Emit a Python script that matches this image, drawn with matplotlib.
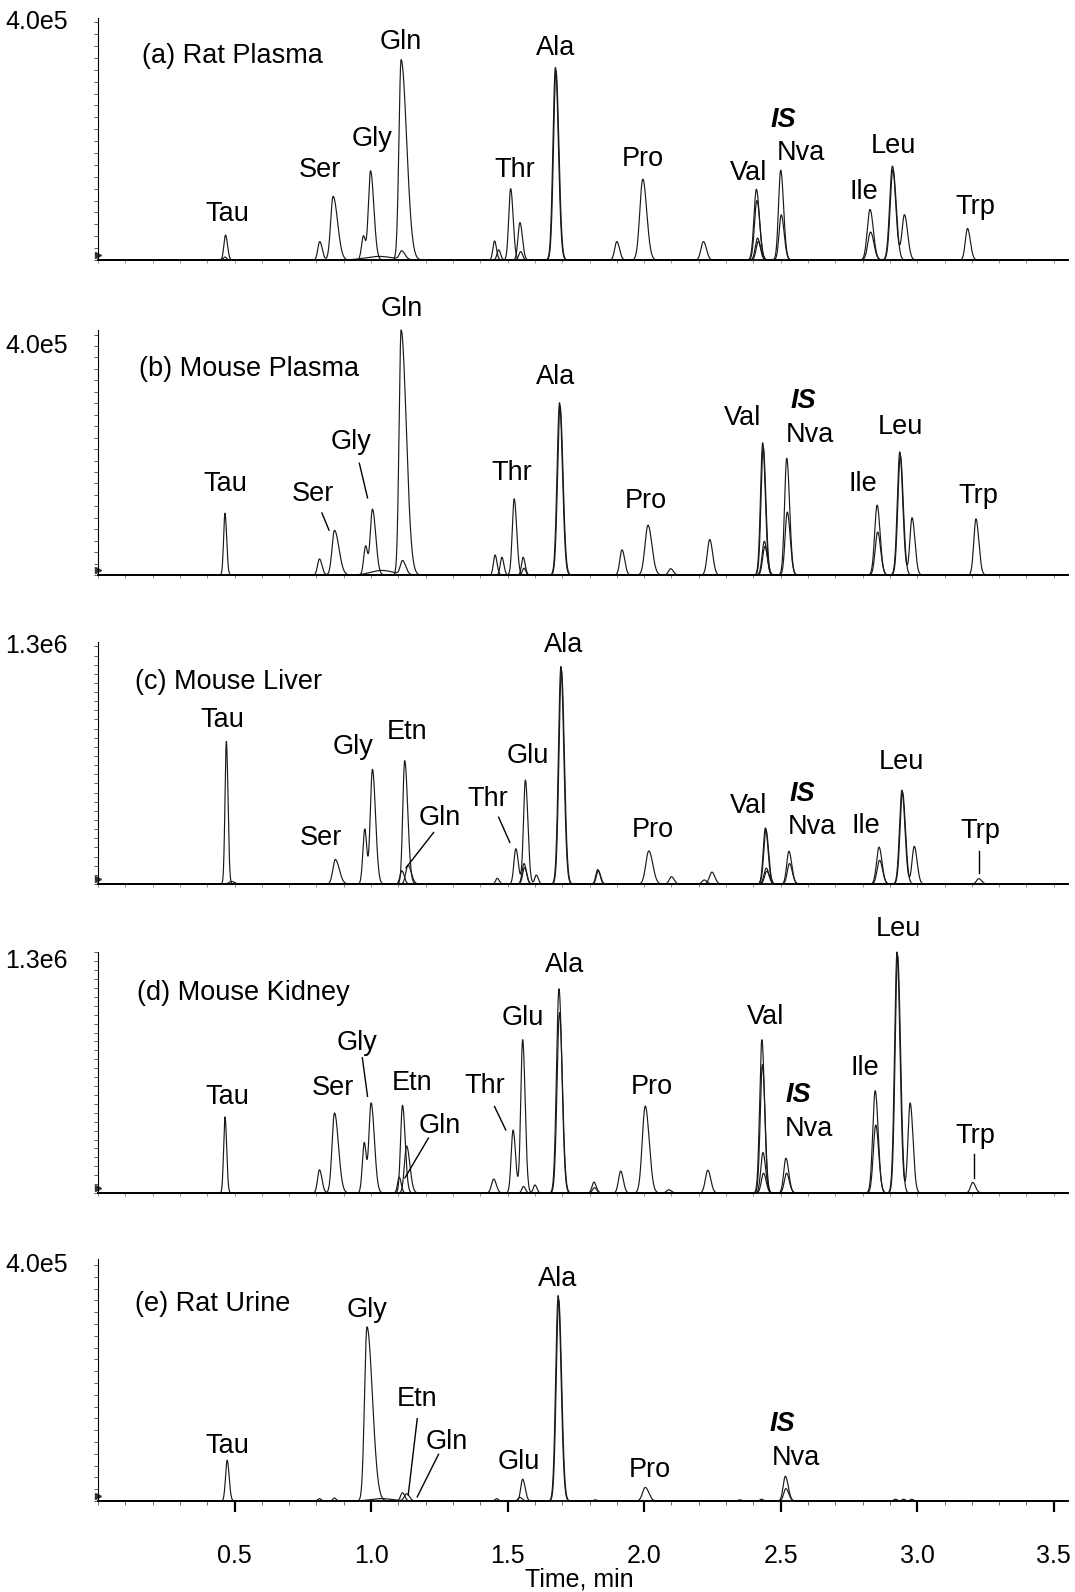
import numpy as np
import matplotlib.pyplot as plt
from matplotlib.ticker import MultipleLocator

plt.rcParams['font.family'] = ['Liberation Sans', 'DejaVu Sans']

# peak tables per sample: retention time (min), height (x1000 counts),
# width sigma (min), right-side tailing factor, trace (MRM channel) index

# (a) Rat Plasma
a_rt = [0.467, 0.812, 0.861, 0.972, 0.998, 1.110, 1.452, 1.511, 1.675, 1.900, 1.995, 2.217,
        2.411, 2.500, 2.827, 2.909, 2.953, 3.184,
        1.030, 1.112, 1.467, 1.545, 1.677, 2.413, 2.502, 2.829, 2.911,
        0.465, 1.548, 2.415, 2.418]
a_h = [42, 31, 107, 40, 150, 337, 32, 120, 324, 31, 136, 31,
       119, 151, 85, 158, 76, 53,
       6, 14, 17, 63, 318, 100, 76, 47, 152,
       5, 14, 37, 31]
a_w = [.006, .007, .009, .007, .008, .008, .006, .007, .009, .008, .011, .009,
       .009, .008, .010, .010, .009, .008,
       .050, .008, .006, .007, .009, .009, .008, .010, .010,
       .006, .007, .008, .008]
a_tail = [1.2, 1.3, 1.8, 1.0, 1.5, 2.5, 1.2, 1.3, 1.2, 1.2, 1.3, 1.2,
          1.2, 1.3, 1.2, 1.2, 1.3, 1.3,
          1.0, 1.5, 1.2, 1.3, 1.2, 1.2, 1.3, 1.2, 1.2,
          1.0, 1.0, 1.2, 1.2]
a_tr = [0] * 18 + [1] * 9 + [2, 2, 2, 3]

# (b) Mouse Plasma
b_rt = [0.465, 0.811, 0.866, 0.980, 1.005, 1.110, 1.454, 1.524, 1.690, 1.919, 2.014, 2.240,
        2.434, 2.522, 2.853, 2.936, 2.981, 3.215,
        1.040, 1.115, 1.479, 1.557, 1.692, 2.097, 2.436, 2.524, 2.855, 2.938,
        1.560, 2.440, 2.442]
b_h = [108, 28, 78, 50, 115, 428, 35, 133, 301, 44, 87, 62,
       231, 204, 122, 215, 100, 98,
       8, 24, 31, 31, 295, 11, 223, 110, 75, 208,
       12, 59, 50]
b_w = [.005, .007, .009, .007, .008, .0075, .006, .007, .009, .008, .011, .009,
       .008, .008, .009, .009, .008, .008,
       .040, .008, .006, .006, .009, .008, .008, .008, .009, .009,
       .006, .008, .008]
b_tail = [1.2, 1.3, 1.8, 1.0, 1.5, 2.5, 1.2, 1.3, 1.2, 1.2, 1.3, 1.2,
          1.2, 1.3, 1.2, 1.2, 1.3, 1.3,
          1.0, 1.5, 1.2, 1.2, 1.2, 1.2, 1.2, 1.3, 1.2, 1.2,
          1.0, 1.2, 1.2]
b_tr = [0] * 18 + [1] * 10 + [2, 2, 3]

# (c) Mouse Liver
c_rt = [0.470, 0.869, 0.977, 1.005, 1.123, 1.462, 1.530, 1.565, 1.605, 1.695, 1.830, 2.017,
        2.100, 2.248, 2.444, 2.530, 2.860, 2.944, 2.989, 3.225,
        0.490, 1.113, 1.560, 1.697, 1.832, 2.220, 2.446, 2.532, 2.862, 2.946,
        1.135, 1.562, 2.447, 2.449]
c_h = [780, 134, 300, 627, 675, 31, 193, 569, 49, 1190, 79, 181,
       40, 65, 307, 179, 202, 513, 206, 29,
       14, 72, 112, 1170, 72, 22, 295, 112, 130, 500,
       103, 90, 87, 70]
c_w = [.005, .009, .007, .008, .007, .006, .007, .007, .006, .009, .007, .011,
       .008, .009, .008, .008, .009, .009, .008, .008,
       .010, .007, .007, .009, .007, .008, .008, .008, .009, .009,
       .008, .007, .008, .008]
c_tail = [1.2, 1.6, 1.0, 1.4, 1.6, 1.2, 1.3, 1.3, 1.2, 1.2, 1.2, 1.3,
          1.2, 1.2, 1.2, 1.3, 1.2, 1.2, 1.3, 1.3,
          1.0, 1.2, 1.2, 1.2, 1.2, 1.2, 1.2, 1.3, 1.2, 1.2,
          1.5, 1.2, 1.2, 1.2]
c_tr = [0] * 20 + [1] * 10 + [2, 2, 2, 3]

# (d) Mouse Kidney
d_rt = [0.465, 0.811, 0.866, 0.975, 1.000, 1.115, 1.449, 1.520, 1.555, 1.600, 1.688, 1.816,
        1.914, 2.004, 2.090, 2.233, 2.431, 2.519, 2.846, 2.926, 2.974, 3.203,
        1.103, 1.558, 1.690, 1.818, 2.433, 2.521, 2.848, 2.928,
        1.130, 2.435, 2.437]
d_h = [427, 130, 449, 280, 505, 492, 78, 353, 860, 45, 1146, 61,
       123, 488, 18, 128, 860, 195, 574, 1352, 505, 59,
       89, 37, 1012, 30, 720, 111, 381, 1330,
       264, 227, 111]
d_w = [.005, .007, .009, .007, .008, .007, .008, .007, .007, .006, .009, .007,
       .008, .011, .008, .009, .008, .008, .009, .009, .008, .008,
       .006, .006, .009, .007, .008, .008, .009, .009,
       .008, .008, .008]
d_tail = [1.2, 1.3, 1.6, 1.0, 1.5, 1.4, 1.2, 1.3, 1.3, 1.2, 1.2, 1.2,
          1.2, 1.3, 1.2, 1.2, 1.2, 1.3, 1.2, 1.2, 1.3, 1.3,
          1.2, 1.2, 1.2, 1.2, 1.2, 1.3, 1.2, 1.2,
          1.5, 1.2, 1.2]
d_tr = [0] * 22 + [1] * 8 + [2, 2, 3]

# (e) Rat Urine
e_rt = [0.473, 0.811, 0.866, 0.985, 1.115, 1.460, 1.555, 1.685, 1.820, 2.004, 2.350, 2.430,
        2.517, 2.920, 2.950, 2.980,
        1.040, 1.130, 1.545, 1.687, 2.519]
e_h = [69, 4, 5, 295, 14, 4, 37, 348, 2, 23, 2, 3,
       42, 3, 3, 3,
       4, 12, 6, 340, 21]
e_w = [.006, .006, .006, .009, .007, .006, .007, .009, .006, .010, .006, .006,
       .008, .006, .006, .006,
       .040, .008, .007, .009, .008]
e_tail = [1.2, 1.0, 1.0, 2.2, 1.2, 1.0, 1.3, 1.2, 1.0, 1.3, 1.0, 1.0,
          1.3, 1.0, 1.0, 1.0,
          1.0, 1.3, 1.2, 1.2, 1.3]
e_tr = [0] * 16 + [1] * 5

titles = ['(a) Rat Plasma', '(b) Mouse Plasma', '(c) Mouse Liver', '(d) Mouse Kidney', '(e) Rat Urine']
title_x = [0.162, 0.151, 0.136, 0.143, 0.136]
title_y = [0.845, 0.842, 0.833, 0.831, 0.815]
scale_txt = ['4.0e5', '4.0e5', '1.3e6', '1.3e6', '4.0e5']
scale_val = [400, 400, 1300, 1300, 400]
y_top = [407, 428, 1324, 1352, 410]
y_minor = [20, 20, 50, 50, 20]

# peak labels: name, time, y (fraction of axis height)
a_lab = ['Tau', 'Ser', 'Gly', 'Gln', 'Thr', 'Ala', 'Pro', 'Val', 'IS', 'Nva', 'Ile', 'Leu', 'Trp']
a_lx = [0.474, 0.812, 1.002, 1.110, 1.526, 1.675, 1.994, 2.381, 2.511, 2.574, 2.805, 2.913, 3.214]
a_ly = [0.189, 0.370, 0.500, 0.899, 0.370, 0.874, 0.416, 0.361, 0.580, 0.441, 0.282, 0.471, 0.218]
b_lab = ['Tau', 'Ser', 'Gly', 'Gln', 'Thr', 'Ala', 'Pro', 'Val', 'IS', 'Nva', 'Ile', 'Leu', 'Trp']
b_lx = [0.467, 0.786, 0.928, 1.113, 1.515, 1.675, 2.006, 2.362, 2.582, 2.608, 2.801, 2.939, 3.225]
b_ly = [0.373, 0.332, 0.544, 1.087, 0.415, 0.809, 0.303, 0.639, 0.710, 0.573, 0.373, 0.606, 0.324]
c_lab = ['Tau', 'Ser', 'Gly', 'Etn', 'Gln', 'Thr', 'Glu', 'Ala', 'Pro', 'Val', 'IS', 'Nva', 'Ile', 'Leu', 'Trp']
c_lx = [0.455, 0.816, 0.935, 1.132, 1.251, 1.429, 1.574, 1.704, 2.032, 2.381, 2.578, 2.615, 2.812, 2.942, 3.232]
c_ly = [0.678, 0.192, 0.565, 0.628, 0.272, 0.351, 0.527, 0.987, 0.222, 0.322, 0.372, 0.234, 0.238, 0.506, 0.218]
d_lab = ['Tau', 'Ser', 'Gly', 'Etn', 'Gln', 'Thr', 'Glu', 'Ala', 'Pro', 'Val', 'IS', 'Nva', 'Ile', 'Leu', 'Trp']
d_lx = [0.474, 0.861, 0.950, 1.150, 1.251, 1.418, 1.556, 1.708, 2.028, 2.444, 2.563, 2.604, 2.809, 2.931, 3.214]
d_ly = [0.397, 0.435, 0.624, 0.456, 0.278, 0.443, 0.726, 0.945, 0.439, 0.730, 0.405, 0.266, 0.519, 1.097, 0.236]
e_lab = ['Tau', 'Gly', 'Etn', 'Gln', 'Glu', 'Ala', 'Pro', 'IS', 'Nva']
e_lx = [0.474, 0.987, 1.169, 1.277, 1.541, 1.682, 2.020, 2.507, 2.556]
e_ly = [0.227, 0.790, 0.420, 0.244, 0.160, 0.916, 0.130, 0.319, 0.176]

# leader lines: (t0, y0, t1, y1), y as fraction of axis height
a_lead = []
b_lead = [(0.820, 0.253, 0.846, 0.183), (0.957, 0.456, 0.987, 0.315)]
c_lead = [(1.467, 0.276, 1.508, 0.172), (1.229, 0.213, 1.128, 0.067), (3.225, 0.138, 3.225, 0.046)]
d_lead = [(0.968, 0.561, 0.987, 0.401), (1.452, 0.359, 1.493, 0.262),
          (1.210, 0.228, 1.124, 0.063), (3.206, 0.160, 3.206, 0.063)]
e_lead = [(1.169, 0.340, 1.136, 0.025), (1.247, 0.193, 1.169, 0.017)]

peaks = [(a_rt, a_h, a_w, a_tail, a_tr), (b_rt, b_h, b_w, b_tail, b_tr), (c_rt, c_h, c_w, c_tail, c_tr),
         (d_rt, d_h, d_w, d_tail, d_tr), (e_rt, e_h, e_w, e_tail, e_tr)]
labels = [(a_lab, a_lx, a_ly), (b_lab, b_lx, b_ly), (c_lab, c_lx, c_ly), (d_lab, d_lx, d_ly), (e_lab, e_lx, e_ly)]
leads = [a_lead, b_lead, c_lead, d_lead, e_lead]

# axes boxes in figure pixels: top, bottom
box_px = [(18, 260), (330, 575), (642, 884), (952, 1193), (1259, 1501)]
W, H = 1075, 1592
x_left, x_right = 98, 1068
FS = 19.5

fig = plt.figure(figsize=(W / 100, H / 100), dpi=100)
grid = np.linspace(0, 3.552, 6000)


def trace(rt, h, w, tail, tr, k):
    y = np.zeros_like(grid)
    for r, hh, ww, tt, t in zip(rt, h, w, tail, tr):
        if t != k:
            continue
        s = np.where(grid < r, ww, ww * tt)
        y += hh * np.exp(-0.5 * ((grid - r) / s) ** 2)
    return y


for i in range(5):
    top, bot = box_px[i]
    ax = fig.add_axes([x_left / W, 1 - bot / H, (x_right - x_left) / W, (bot - top) / H])
    rt, h, w, tail, tr = peaks[i]
    for k in sorted(set(tr)):
        ax.plot(grid, trace(rt, h, w, tail, tr, k), color='#1a1a1a', lw=0.85, clip_on=False)
    ax.set_xlim(0, 3.552)
    ax.set_ylim(0, y_top[i])
    for s in ['top', 'right']:
        ax.spines[s].set_visible(False)
    ax.spines['left'].set_linewidth(0.8)
    ax.spines['bottom'].set_linewidth(1.3)
    ax.yaxis.set_major_locator(MultipleLocator(y_minor[i]))
    ax.tick_params(axis='y', length=3, width=0.6, colors='#444444', labelleft=False)
    ax.xaxis.set_major_locator(MultipleLocator(0.5))
    ax.xaxis.set_minor_locator(MultipleLocator(0.1))
    if i < 4:
        ax.tick_params(axis='x', which='both', length=2.5, width=0.6, colors='#777777', labelbottom=False)
    else:
        ax.tick_params(axis='x', which='major', length=8, width=1.6, colors='black', labelsize=18, pad=23)
        ax.tick_params(axis='x', which='minor', length=3, width=0.6, colors='#555555')
        ax.set_xticks([0.5, 1.0, 1.5, 2.0, 2.5, 3.0, 3.5])
        ax.set_xticklabels(['0.5', '1.0', '1.5', '2.0', '2.5', '3.0', '3.5'])
    ax.plot([0], [0.02], marker='>', ms=4, color='#333333', transform=ax.transAxes, clip_on=False)

    ax.text(-0.031, scale_val[i], scale_txt[i], transform=ax.get_yaxis_transform(),
            ha='right', va='center', fontsize=18)
    ax.text(title_x[i], title_y[i], titles[i], transform=ax.get_xaxis_transform(),
            ha='left', va='center', fontsize=FS)
    lab, lx, ly = labels[i]
    for name, tx, ty in zip(lab, lx, ly):
        if name == 'IS':
            ax.text(tx, ty, name, transform=ax.get_xaxis_transform(), ha='center', va='center',
                    fontsize=FS, fontweight='bold', fontstyle='italic')
        else:
            ax.text(tx, ty, name, transform=ax.get_xaxis_transform(), ha='center', va='center',
                    fontsize=FS)
    for t0, y0, t1, y1 in leads[i]:
        ax.plot([t0, t1], [y0, y1], color='black', lw=1.0, transform=ax.get_xaxis_transform(), clip_on=False)

fig.text(579 / W, 1 - 1579 / H, 'Time, min', ha='center', va='center', fontsize=18)
fig.savefig('out.png', dpi=100)
